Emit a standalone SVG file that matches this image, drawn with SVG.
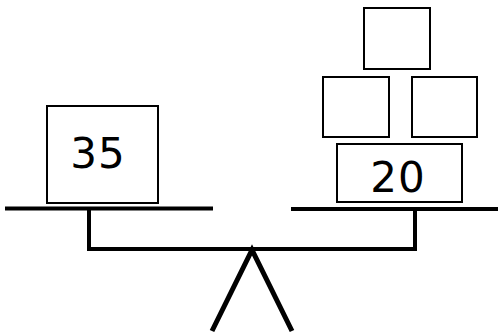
<svg xmlns="http://www.w3.org/2000/svg" width="499" height="336" viewBox="0 0 499 336">
<style>
.box{fill:#fff;stroke:#000;stroke-width:2}
.bar{fill:none;stroke:#000;stroke-width:4}
.leg{fill:none;stroke:#000;stroke-width:5}
.lbl{font-family:"DejaVu Sans",sans-serif;font-size:42px;text-anchor:middle;fill:#000;letter-spacing:1px}
</style>
<rect width="499" height="336" fill="#fff"/>
<g id="connectors">
<line class="bar" x1="5" y1="208.5" x2="213" y2="208.5"/>
<line class="bar" x1="291" y1="209" x2="498" y2="209"/>
<polyline class="bar" points="89,208 89,249 415,249 415,209"/>
<polyline class="leg" points="212,331 252,250 292,331"/>
</g>
<g id="left-box"><rect class="box" x="47" y="106" width="111" height="97"/><text class="lbl" x="98" y="168">35</text></g>
<g id="box-20"><rect class="box" x="337" y="144" width="125" height="58"/><text class="lbl" x="398" y="192">20</text></g>
<g id="box-mid-left"><rect class="box" x="323" y="77" width="66" height="60"/></g>
<g id="box-mid-right"><rect class="box" x="412" y="77" width="65" height="60"/></g>
<g id="box-top"><rect class="box" x="364" y="8" width="66" height="61"/></g>
</svg>
